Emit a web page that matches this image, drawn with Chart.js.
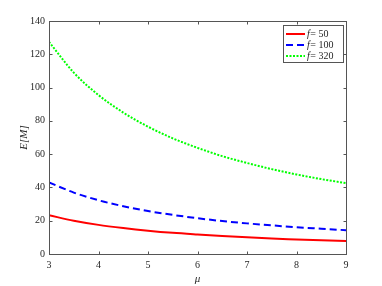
<!DOCTYPE html>
<html>
<head>
<meta charset="utf-8">
<script src="https://cdn.jsdelivr.net/npm/chart.js@4.4.1/dist/chart.umd.min.js"></script>
<style>
  html, body { margin: 0; padding: 0; background: #fff; }
  #wrap { width: 382px; height: 286px; }
</style>
</head>
<body>
<div id="wrap"><canvas id="c" width="382" height="286"></canvas></div>
<script>
// values
const mu = [3, 3.5, 4, 4.5, 5, 5.5, 6, 6.5, 7, 7.5, 8, 8.5, 9];
const f50  = [23.3, 20.0, 17.5, 15.6, 14.0, 12.7, 11.7, 10.8, 10.0, 9.3, 8.75, 8.2, 7.8];
const f100 = [43.0, 36.9, 32.3, 28.7, 25.8, 23.5, 21.5, 19.8, 18.4, 17.2, 16.1, 15.2, 14.3];
const f320 = [127.5, 109.0, 95.5, 85.0, 76.5, 69.5, 63.8, 58.8, 54.7, 51.0, 47.8, 45.0, 42.6];
const fLabels = ['50', '100', '320'];
const xTicks = [3, 4, 5, 6, 7, 8, 9];
const yTicks = [0, 20, 40, 60, 80, 100, 120, 140];

const axisColor = '#262626';
const serif = '"Liberation Serif", "Times New Roman", serif';

function pts(ys) { return mu.map((x, i) => ({ x: x, y: ys[i] })); }

// box, inward ticks and legend like the matlab figure
const boxPlugin = {
  id: 'box',
  afterDraw(chart) {
    const { ctx, chartArea: a, scales } = chart;
    const L = Math.round(a.left) + 0.5, R = Math.round(a.right) + 0.5;
    const T = Math.round(a.top) + 0.5, B = Math.round(a.bottom) + 0.5;
    ctx.save();
    ctx.strokeStyle = '#555';
    ctx.lineWidth = 1;
    ctx.strokeRect(L, T, R - L, B - T);
    ctx.beginPath();
    xTicks.forEach(v => {
      const px = Math.round(scales.x.getPixelForValue(v)) + 0.5;
      ctx.moveTo(px, B); ctx.lineTo(px, B - 3);
      ctx.moveTo(px, T); ctx.lineTo(px, T + 3);
    });
    yTicks.forEach(v => {
      const py = Math.round(scales.y.getPixelForValue(v)) + 0.5;
      ctx.moveTo(L, py); ctx.lineTo(L + 3, py);
      ctx.moveTo(R, py); ctx.lineTo(R - 3, py);
    });
    ctx.stroke();

    // legend
    const lx = 283.5, ly = 25.5, lw = 60, lh = 37;
    ctx.fillStyle = '#fff';
    ctx.fillRect(lx, ly, lw, lh);
    ctx.strokeStyle = '#555';
    ctx.strokeRect(lx, ly, lw, lh);
    chart.data.datasets.forEach((ds, i) => {
      const y = 34 + i * 11;
      ctx.beginPath();
      ctx.strokeStyle = ds.borderColor;
      ctx.lineWidth = ds.borderWidth;
      ctx.setLineDash(ds.borderDash || []);
      ctx.moveTo(286, y); ctx.lineTo(305, y);
      ctx.stroke();
      ctx.setLineDash([]);
      ctx.fillStyle = axisColor;
      ctx.textBaseline = 'middle';
      ctx.font = 'italic 10px ' + serif;
      ctx.fillText('f', 307, y);
      const w = ctx.measureText('f').width;
      ctx.font = '10px ' + serif;
      ctx.fillText('= ' + fLabels[i], 307 + w + 0.5, y);
    });
    ctx.restore();
  }
};

new Chart(document.getElementById('c'), {
  type: 'line',
  data: {
    datasets: [
      { label: 'f= 50', data: pts(f50), borderColor: '#ff0000', borderWidth: 2, pointRadius: 0, cubicInterpolationMode: 'monotone' },
      { label: 'f= 100', data: pts(f100), borderColor: '#0000ff', borderWidth: 2, borderDash: [7, 4], pointRadius: 0, cubicInterpolationMode: 'monotone' },
      { label: 'f= 320', data: pts(f320), borderColor: '#00ff00', borderWidth: 2, borderDash: [2, 1.5], pointRadius: 0, cubicInterpolationMode: 'monotone' }
    ]
  },
  options: {
    responsive: false,
    animation: false,
    layout: { padding: { left: 0, top: 21, right: 36, bottom: 0 } },
    plugins: { legend: { display: false }, tooltip: { enabled: false } },
    scales: {
      x: {
        type: 'linear', min: 3, max: 9,
        afterBuildTicks: s => { s.ticks = xTicks.map(v => ({ value: v })); },
        afterFit: s => { s.height = 32; },
        grid: { display: false, drawTicks: false },
        border: { display: false },
        ticks: { color: axisColor, font: { family: serif, size: 10 }, padding: 5, maxRotation: 0 },
        title: { display: true, text: 'μ', color: axisColor, font: { family: serif, size: 11, style: 'italic' }, padding: { top: 2, bottom: 0 } }
      },
      y: {
        min: 0, max: 140,
        afterBuildTicks: s => { s.ticks = yTicks.map(v => ({ value: v })); },
        afterFit: s => { s.width = 49; },
        grid: { display: false, drawTicks: false },
        border: { display: false },
        ticks: { color: axisColor, font: { family: serif, size: 10 }, padding: 4 },
        title: { display: true, text: 'E[M]', color: axisColor, font: { family: serif, size: 11, style: 'italic' }, padding: { top: 18, bottom: 0 } }
      }
    }
  },
  plugins: [boxPlugin]
});
</script>
</body>
</html>
